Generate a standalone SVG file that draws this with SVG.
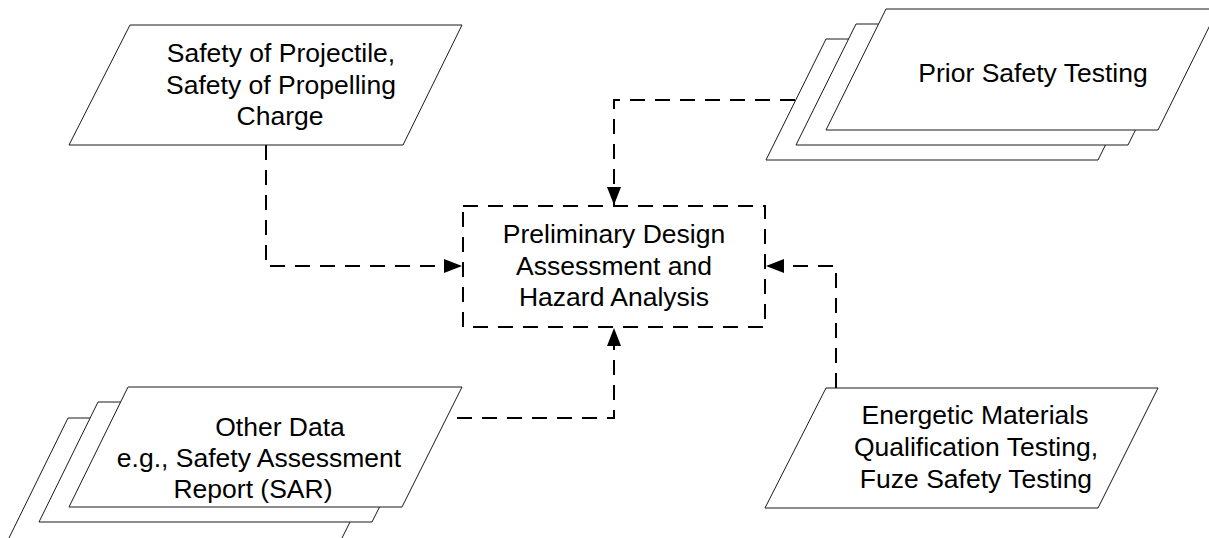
<svg xmlns="http://www.w3.org/2000/svg" width="1209" height="538" viewBox="0 0 1209 538">
<style>
.shape{fill:#fff;stroke:#1a1a1a;stroke-width:1}
.conn{fill:none;stroke:#000;stroke-width:2;stroke-dasharray:15 10}
.box{fill:#fff;stroke:#000;stroke-width:2;stroke-dasharray:15 10}
text{font-family:"Liberation Sans",Arial,sans-serif;font-size:26.5px;fill:#000;text-anchor:middle}
</style>
<defs>
<marker id="arr" markerUnits="userSpaceOnUse" markerWidth="19" markerHeight="16" refX="18" refY="7" orient="auto">
<path d="M0,0 L18,7 L0,14 Z" fill="#000"/>
</marker>
</defs>
<rect width="1209" height="538" fill="#fff"/>
<g id="connectors">
<path class="conn" d="M266,145 V266 H462" marker-end="url(#arr)"/>
<path class="conn" d="M795,100 H614 V205" marker-end="url(#arr)"/>
<path class="conn" d="M836,388 V266 H766" marker-end="url(#arr)"/>
<path class="conn" d="M457,418 H614 V328" marker-end="url(#arr)"/>
</g>
<g id="projectile">
<polygon class="shape" points="130,25 462,25 403,145 69,145"/>
<text x="281" y="62">Safety of Projectile,</text>
<text x="281" y="93.5">Safety of Propelling</text>
<text x="280" y="125">Charge</text>
</g>
<g id="prior-testing">
<polygon class="shape" points="826,39 1158,39 1098,160 766,160"/>
<polygon class="shape" points="856,24 1188,24 1128,145 796,145"/>
<polygon class="shape" points="886,9 1218,9 1158,130 826,130"/>
<text x="1033" y="82">Prior Safety Testing</text>
</g>
<g id="preliminary">
<rect class="box" x="463" y="206" width="302" height="121"/>
<text x="614" y="243">Preliminary Design</text>
<text x="614" y="274.5">Assessment and</text>
<text x="614" y="306">Hazard Analysis</text>
</g>
<g id="other-data">
<polygon class="shape" points="68,418 402,418 341,540 8,540"/>
<polygon class="shape" points="98,402 432,402 372,522 39,522"/>
<polygon class="shape" points="128,387 462,387 402,507 69,507"/>
<text x="280" y="436">Other Data</text>
<text x="259" y="467">e.g., Safety Assessment</text>
<text x="253" y="498">Report (SAR)</text>
</g>
<g id="energetic">
<polygon class="shape" points="826,388 1158,388 1098,508 765,508"/>
<text x="975" y="424">Energetic Materials</text>
<text x="976" y="456">Qualification Testing,</text>
<text x="976" y="488">Fuze Safety Testing</text>
</g>
</svg>
